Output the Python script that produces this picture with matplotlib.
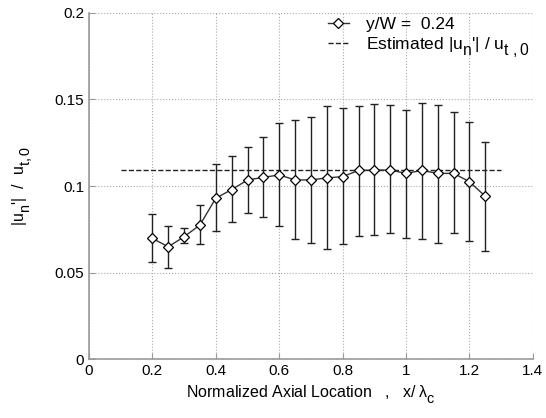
import matplotlib
matplotlib.use("Agg")
import matplotlib.pyplot as plt
import matplotlib._mathtext as mathtext_core
import numpy as np

# MATLAB-style labels: subscripts nearly full size and dropped lower
mathtext_core.SHRINK_FACTOR = 0.9
mathtext_core.FontConstantsBase.sub1 = 0.75
mathtext_core.FontConstantsBase.sub2 = 0.9

plt.rcParams["font.family"] = ["Liberation Sans", "DejaVu Sans"]
plt.rcParams["mathtext.fontset"] = "custom"
plt.rcParams["mathtext.rm"] = "Liberation Sans"
plt.rcParams["mathtext.it"] = "Liberation Sans"

x_loc = [0.20, 0.25, 0.30, 0.35, 0.40, 0.45, 0.50, 0.55, 0.60, 0.65, 0.70,
         0.75, 0.80, 0.85, 0.90, 0.95, 1.00, 1.05, 1.10, 1.15, 1.20, 1.25]
un_mean = [0.0697, 0.0649, 0.0707, 0.0775, 0.0930, 0.0979, 0.1035, 0.1050,
           0.1064, 0.1035, 0.1035, 0.1047, 0.1054, 0.1090, 0.1092, 0.1092,
           0.1073, 0.1090, 0.1073, 0.1073, 0.1025, 0.0940]
un_low = [0.0562, 0.0526, 0.0668, 0.0663, 0.0740, 0.0794, 0.0846, 0.0823,
          0.0769, 0.0694, 0.0672, 0.0635, 0.0663, 0.0713, 0.0717, 0.0727,
          0.0698, 0.0696, 0.0671, 0.0727, 0.0682, 0.0624]
un_high = [0.0838, 0.0770, 0.0755, 0.0890, 0.1125, 0.1173, 0.1227, 0.1285,
           0.1362, 0.1382, 0.1400, 0.1462, 0.1449, 0.1462, 0.1472, 0.1470,
           0.1439, 0.1478, 0.1470, 0.1430, 0.1368, 0.1256]
est_x = [0.1, 1.3]
est_value = 0.109

xticks = [0, 0.2, 0.4, 0.6, 0.8, 1, 1.2, 1.4]
yticks = [0, 0.05, 0.1, 0.15, 0.2]

fig = plt.figure(figsize=(5.46, 4.18), dpi=100)
ax = fig.add_axes([0.163, 0.141, 0.813, 0.828])

mean = np.array(un_mean)
yerr = [mean - np.array(un_low), np.array(un_high) - mean]

ax.errorbar(x_loc, un_mean, yerr=yerr, fmt="none", ecolor="#222222",
            elinewidth=1.0, capsize=2.7, capthick=1.0, zorder=2)
ax.plot(x_loc, un_mean, "-", color="#333333", lw=1.0, marker="D",
        markersize=5, markerfacecolor="white", markeredgecolor="black",
        markeredgewidth=0.9, label="y/W =  0.24", zorder=3)
ax.plot(est_x, [est_value, est_value], "--", color="#222222", lw=1.0,
        label="Estimated |u$_\\mathregular{n}$'| / u$_\\mathregular{t\\ ,0}$", zorder=2)

ax.set_xlim(0, 1.4)
ax.set_ylim(0, 0.2)
ax.set_xticks(xticks)
ax.set_xticklabels(["0", "0.2", "0.4", "0.6", "0.8", "1", "1.2", "1.4"])
ax.set_yticks(yticks)
ax.set_yticklabels(["0", "0.05", "0.1", "0.15", "0.2"])
ax.grid(True, linestyle=":", color="#aaaaaa", lw=0.8)

for side in ["top", "right"]:
    ax.spines[side].set_visible(False)
for side in ["left", "bottom"]:
    ax.spines[side].set_color("#999999")
    ax.spines[side].set_linewidth(1.2)
ax.tick_params(direction="in", length=4, color="#999999", labelsize=11,
               labelcolor="black")

ax.set_xlabel("Normalized Axial Location   ,   x/ $\\lambda_\\mathregular{c}$",
              fontsize=11.5, labelpad=4)
ax.set_ylabel("|u$_\\mathregular{n}$'|  /  u$_\\mathregular{t ,0}$", fontsize=11.5,
              labelpad=14)

ax.legend(loc="upper right", frameon=False, fontsize=12.5, handlelength=1.2,
          handletextpad=1.0, borderaxespad=0.0, borderpad=0.2,
          labelspacing=0.2)

fig.savefig("out.png", dpi=100)
